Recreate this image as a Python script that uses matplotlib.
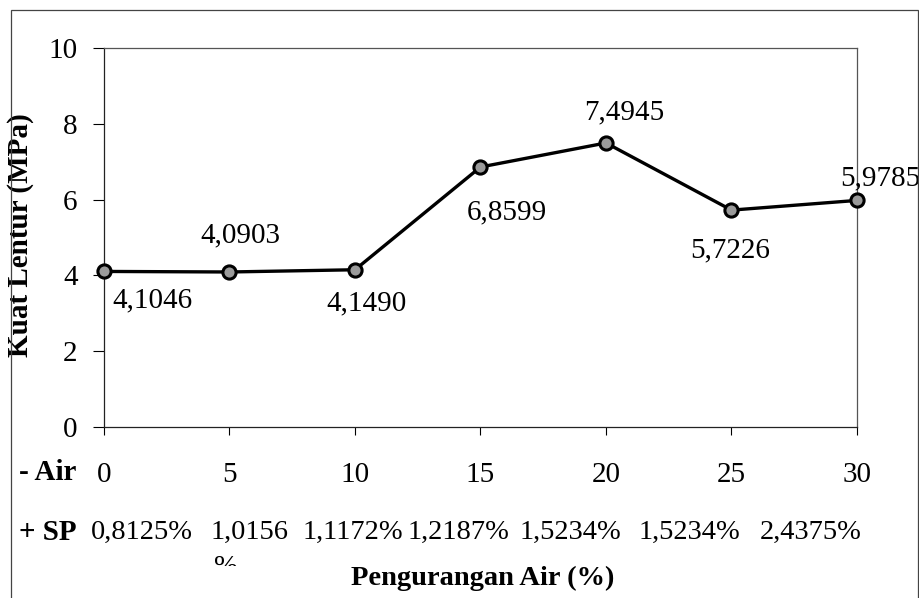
import matplotlib
matplotlib.use('Agg')
import matplotlib.pyplot as plt
from matplotlib.patches import Rectangle
from matplotlib.transforms import Bbox

plt.rcParams['font.family'] = ['Liberation Serif', 'DejaVu Serif']

# data
air = [0, 5, 10, 15, 20, 25, 30]
kuat = [4.1046, 4.0903, 4.1490, 6.8599, 7.4945, 5.7226, 5.9785]
value_labels = ['4,1046', '4,0903', '4,1490', '6,8599', '7,4945', '5,7226', '5,9785']
sp_labels = ['0,8125%', '1,0156', '1,1172%', '1,2187%', '1,5234%', '1,5234%', '2,4375%']

# layout: label offsets (points) around each marker, SP text centres (px)
offsets = [(6, -21), (8, 26), (8, -24), (19, -33), (13, 22), (-1, -29), (17, 16)]
aligns = ['left', 'center', 'center', 'center', 'center', 'center', 'center']
sp_x = [142, 250, 353, 458, 570, 689, 811]

W, H = 920, 598
fig = plt.figure(figsize=(W / 100, H / 100), dpi=100)
ax = fig.add_axes([104 / W, 1 - 427 / H, (857 - 104) / W, (427 - 48) / H])

ax.plot(air, kuat, color='black', lw=2.4, marker='o', markersize=9.5,
        markerfacecolor='#9a9a9a', markeredgecolor='black', markeredgewidth=2.2,
        clip_on=False, zorder=3)

for xv, yv, lab, off, ha in zip(air, kuat, value_labels, offsets, aligns):
    ax.annotate(lab, (xv, yv), xytext=off, textcoords='offset points',
                ha=ha, va='center', fontsize=21)

ax.set_xlim(0, 30)
ax.set_ylim(0, 10)
ax.set_yticks([0, 2, 4, 6, 8, 10])
ax.set_xticks(air)
ax.set_xticklabels([str(a) for a in air])
ax.tick_params(axis='y', labelsize=21, length=8, width=0.8, pad=11, direction='out')
ax.tick_params(axis='x', labelsize=21, length=6, width=0.8, pad=19, direction='out')
for side, s in ax.spines.items():
    s.set_linewidth(0.9)
    s.set_color('#222222' if side in ('left', 'bottom') else '#555555')

ax.set_ylabel('Kuat Lentur (MPa)', fontsize=21, fontweight='bold')
ax.yaxis.set_label_coords((34 - 104) / (857 - 104), (427 - 235) / (427 - 48))

for xp, lab in zip(sp_x, sp_labels):
    fig.text(xp / W, 1 - 532 / H, lab, ha='center', va='center', fontsize=20.5)

# wrapped "%" of the second SP label, mostly hidden below the row
pct = fig.text(226 / W, 1 - 568 / H, '%', ha='center', va='center', fontsize=20.5)
pct.set_clip_box(Bbox([[190, H - 566], [270, H - 545]]))
pct.set_clip_on(True)

fig.text(19 / W, 1 - 473 / H, '- Air', ha='left', va='center', fontsize=21, fontweight='bold')
fig.text(19 / W, 1 - 532 / H, '+ SP', ha='left', va='center', fontsize=21, fontweight='bold')
fig.text(483 / W, 1 - 578 / H, 'Pengurangan Air (%)', ha='center', va='center',
         fontsize=20.5, fontweight='bold')

# outer chart frame
fig.patches.append(Rectangle((11 / W, -0.02), (918 - 11) / W, 0.02 + 1 - 10 / H,
                             transform=fig.transFigure, fill=False,
                             edgecolor='#444444', lw=0.9))

plt.savefig('out.png', dpi=100)
